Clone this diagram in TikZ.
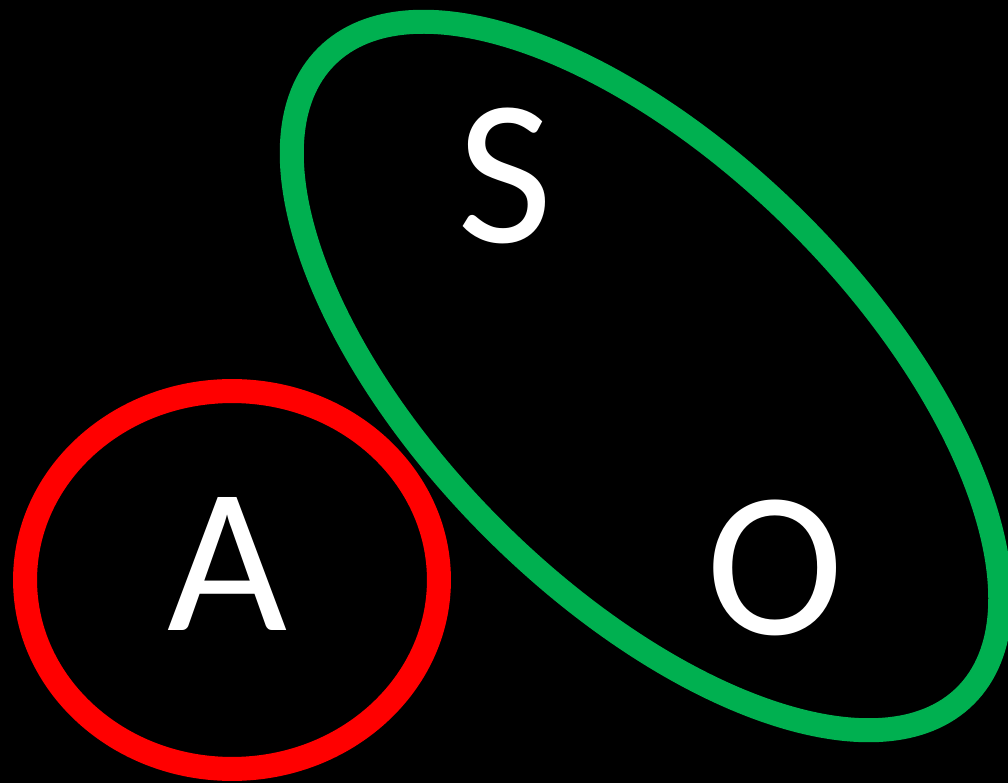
\documentclass[tikz,border=0pt]{standalone}
\usepackage{fontspec}
\setmainfont{Carlito}
\usepackage{tikz}
\usetikzlibrary{positioning}
\definecolor{setred}{RGB}{255,0,0}
\definecolor{setgreen}{RGB}{0,176,80}

\begin{document}
\begin{tikzpicture}[
  x=0.02cm, y=-0.02cm,
  ring/.style={line width=0.48cm},
  letter/.style={text=white, inner sep=0pt, font=\fontsize{118}{120}\selectfont}
]
% Background
\fill[black] (0,0) rectangle (1008,783);
\useasboundingbox (0,0) rectangle (1008,783);

% Sets
\draw[ring, setred] (232,580) ellipse [x radius=4.14cm, y radius=3.78cm];
\draw[ring, setgreen] (646,376) ellipse [x radius=9.04cm, y radius=4.32cm, rotate=-45];

% Labels
\node[letter] (S) at (505,176) {S};
\node[letter] (A) at (227,564) {A};
\node[letter] (O) at (775,568) {O};
\end{tikzpicture}
\end{document}
